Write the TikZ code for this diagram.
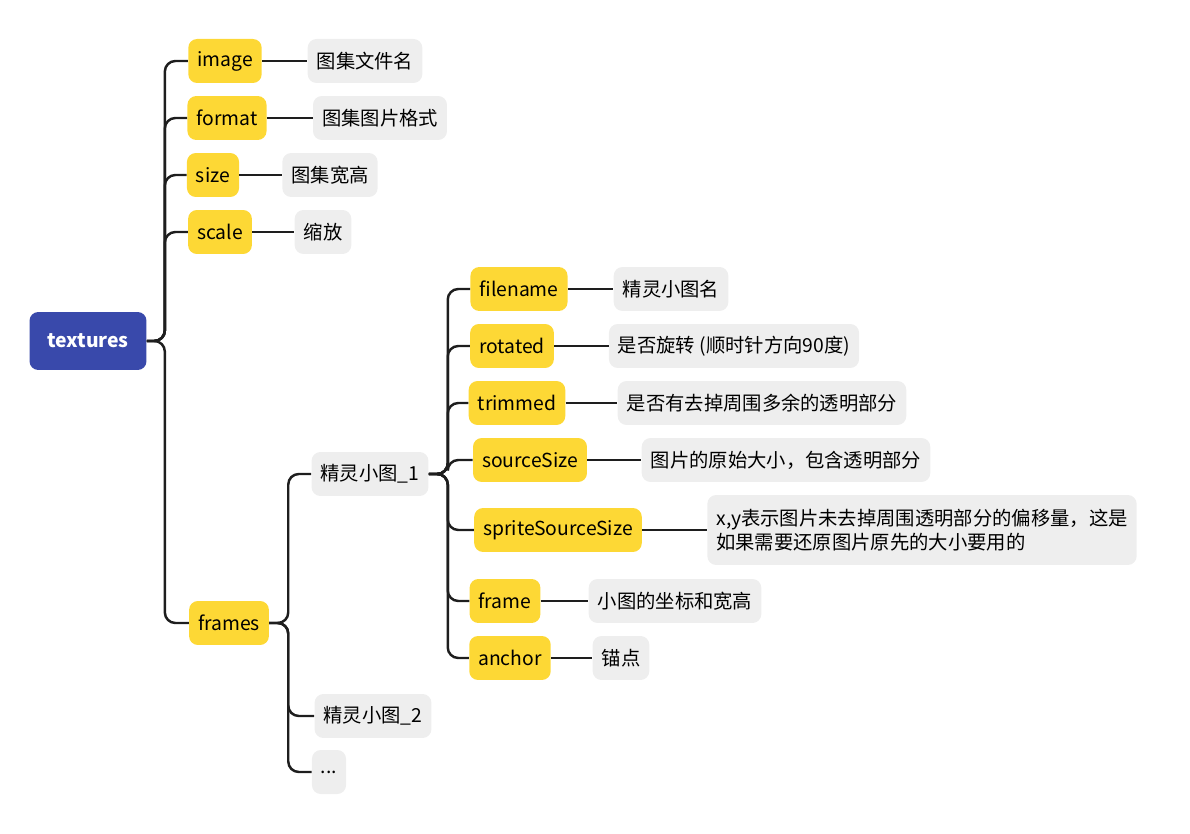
\documentclass[tikz,border=0pt]{standalone}
\usepackage{fontspec}
\setmainfont{Noto Sans CJK SC}
\usetikzlibrary{positioning}
\definecolor{rootblue}{RGB}{57,73,171}
\definecolor{keyyellow}{RGB}{253,216,53}
\definecolor{descgray}{RGB}{238,238,238}
\definecolor{linegray}{RGB}{30,30,30}
\tikzstyle{root} = [rectangle, rounded corners=5pt, text centered, fill=rootblue, text=white, font=\fontsize{11}{14}\selectfont\bfseries, minimum height=1.16cm, minimum width=2.34cm]
\tikzstyle{key} = [rectangle, rounded corners=5pt, text centered, fill=keyyellow, font=\fontsize{11}{14}\selectfont, minimum height=0.88cm, inner xsep=0.18cm]
\tikzstyle{desc} = [rectangle, rounded corners=5pt, fill=descgray, font=\fontsize{11}{14}\selectfont, minimum height=0.88cm, inner xsep=0.18cm]
\tikzstyle{link} = [line width=1.4pt, draw=linegray, rounded corners=6pt]

\begin{document}
\begin{tikzpicture}[x=0.02cm, y=-0.02cm]
    \useasboundingbox (0,0) rectangle (1190,834);
    \node (textures) [root] at (88,341) {textures};

    \node (image) [key] at (225,61) {image};
    \node (format) [key] at (227,118) {format};
    \node (size) [key] at (213,175) {size};
    \node (scale) [key] at (220,232) {scale};
    \node (frames) [key] at (229,623) {frames};

    \node (imagedesc) [desc] at (365,61) {图集文件名};
    \node (formatdesc) [desc] at (380,118) {图集图片格式};
    \node (sizedesc) [desc] at (330,175) {图集宽高};
    \node (scaledesc) [desc] at (323,232) {缩放};

    \node (sprite1) [desc] at (370,474) {精灵小图\_1};
    \node (sprite2) [desc] at (373,716) {精灵小图\_2};
    \node (more) [desc] at (329,772) {...};

    \node (filename) [key] at (519,289) {filename};
    \node (rotated) [key] at (512,346) {rotated};
    \node (trimmed) [key] at (517,403) {trimmed};
    \node (sourcesize) [key] at (530,460) {sourceSize};
    \node (spritesourcesize) [key] at (558,530) {spriteSourceSize};
    \node (frame) [key] at (505,601) {frame};
    \node (anchor) [key] at (510,658) {anchor};

    \node (filenamedesc) [desc] at (671,289) {精灵小图名};
    \node (rotateddesc) [desc] at (734,346) {是否旋转 (顺时针方向90度)};
    \node (trimmeddesc) [desc] at (762,403) {是否有去掉周围多余的透明部分};
    \node (sourcesizedesc) [desc] at (786,460) {图片的原始大小，包含透明部分};
    \node (spritesourcesizedesc) [desc, align=left, minimum height=1.4cm] at (922,530) {x,y表示图片未去掉周围透明部分的偏移量，这是\\如果需要还原图片原先的大小要用的};
    \node (framedesc) [desc] at (675,601) {小图的坐标和宽高};
    \node (anchordesc) [desc] at (621,658) {锚点};

    % root branches
    \foreach \child in {image, format, size, scale, frames}
        \draw [link] (textures.east) -- ++(18,0) |- (\child.west);

    % frames branches
    \foreach \child in {sprite1, sprite2, more}
        \draw [link] (frames.east) -- ++(19,0) |- (\child.west);

    % sprite branches
    \foreach \child in {filename, rotated, trimmed, sourcesize, spritesourcesize, frame, anchor}
        \draw [link] (sprite1.east) -- ++(19,0) |- (\child.west);

    % descriptions
    \foreach \k in {image, format, size, scale, filename, rotated, trimmed, sourcesize, spritesourcesize, frame, anchor}
        \draw [link] (\k.east) -- (\k desc.west);
\end{tikzpicture}
\end{document}
